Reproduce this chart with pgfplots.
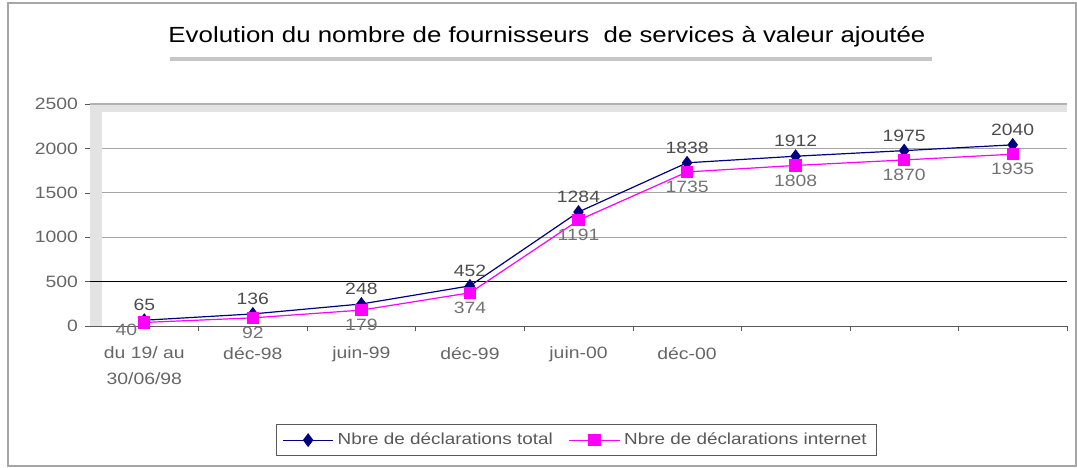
\documentclass[border=0pt]{standalone}
\usepackage{pgfplots}
\pgfplotsset{compat=1.18}
\usepackage{fontspec}
\setmainfont[FakeStretch=1.18]{Liberation Sans}
\definecolor{navy}{RGB}{0,0,128}
\definecolor{mag}{RGB}{255,0,255}
\begin{document}
\begin{tikzpicture}
\useasboundingbox (0pt,0pt) rectangle (538.5pt,233.5pt);
\draw[gray!70, line width=0.8pt] (4pt,0.5pt) rectangle (538pt,232pt);
\node[font=\fontsize{10.95}{12}\selectfont] at (273.5pt,215pt) {Evolution du nombre de fournisseurs\ \ de services à valeur ajoutée};
\draw[gray!45, line width=2.2pt] (85pt,204pt) -- (466pt,204pt);
\begin{axis}[
  at={(45pt,70.5pt)}, anchor=south west,
  scale only axis, width=488.5pt, height=111pt,
  xmin=-0.5, xmax=8.5, ymin=0, ymax=2500,
  axis x line=bottom, axis y line=left,
  axis line style={-, gray!70!black},
  xtick={0.5,1.5,...,8.5}, xticklabels={},
  extra x ticks={0,1,2,3,4,5},
  extra x tick labels={{du 19/ au\\30/06/98},déc-98,juin-99,déc-99,juin-00,déc-00},
  extra x tick style={major tick length=0pt, tick label style={align=center, yshift=-7pt}},
  ytick={0,500,...,2500},
  tick align=outside, major tick length=2.5pt,
  tick style={gray!70!black},
  ymajorgrids, grid style={gray!70},
  tick label style={font=\fontsize{8.2}{12.8}\selectfont, text=black!60},
  /pgf/number format/assume math mode=true,
  /pgf/number format/1000 sep={},
  legend columns=2,
  legend image code/.code={\draw[mark repeat=2,mark phase=2] plot coordinates {(0cm,0cm) (0.44cm,0cm) (0.88cm,0cm)};},
  legend style={at={(0.498,-0.514)}, anchor=center, draw=gray!70!black,
    font=\fontsize{8}{10}\selectfont, text=black!65,
    /tikz/every even column/.append style={column sep=6pt}},
  clip=false,
]
\fill[gray!22] (axis description cs:0,1) rectangle (axis description cs:1,0.965);
\fill[gray!22] (axis description cs:0,1) rectangle (axis description cs:0.012,0);
\draw[gray!60, line width=0.7pt] (axis description cs:0,1) -- (axis description cs:1,1);
\draw[black, line width=0.5pt] (axis cs:-0.5,500) -- (axis cs:8.5,500);
\addplot[color=navy, line width=0.6pt, mark=diamond*, mark size=3pt,
  nodes near coords, every node near coord/.append style={anchor=south, font=\fontsize{8.2}{10}\selectfont, text=black!70, yshift=1pt}]
  coordinates {(0,65) (1,136) (2,248) (3,452) (4,1284) (5,1838) (6,1912) (7,1975) (8,2040)};
\addlegendentry{Nbre de déclarations total}
\addplot[color=mag, line width=0.6pt, mark=square*, mark size=2.8pt,
  nodes near coords, every node near coord/.append style={anchor=north, font=\fontsize{8.2}{10}\selectfont, text=black!55, yshift=-1pt},
  coordinate style/.condition={\coordindex==0}{xshift=-9pt, yshift=4pt}]
  coordinates {(0,40) (1,92) (2,179) (3,374) (4,1191) (5,1735) (6,1808) (7,1870) (8,1935)};
\addlegendentry{Nbre de déclarations internet}
\end{axis}
\end{tikzpicture}
\end{document}
